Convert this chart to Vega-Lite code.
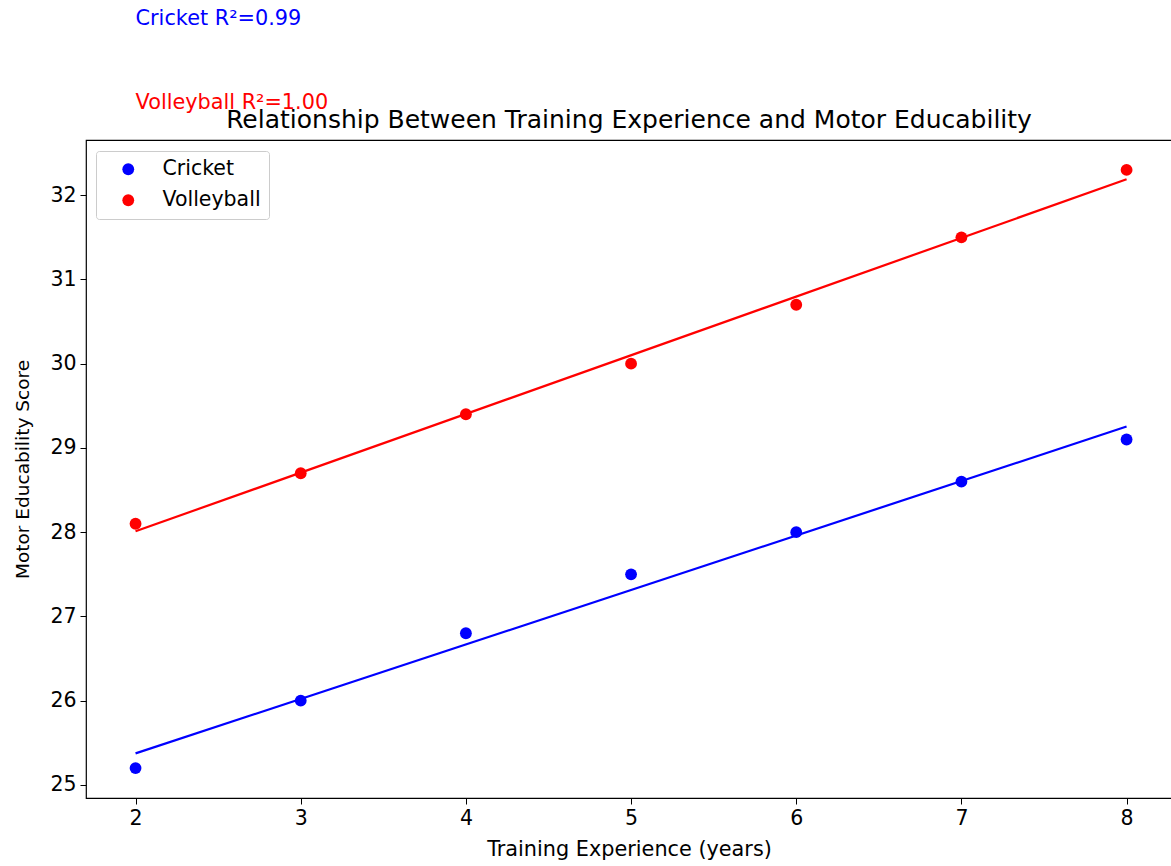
{
  "$schema": "https://vega.github.io/schema/vega-lite/v6.json",
  "autosize": {"type": "none"},
  "padding": {"left": 86, "top": 140, "right": 0, "bottom": 68},
  "width": 1086,
  "height": 658,
  "background": "white",
  "config": {
    "font": "DejaVu Sans",
    "view": {"stroke": "black", "strokeWidth": 1.2},
    "axis": {"grid": false, "domain": false, "tickColor": "black", "tickSize": 6, "labelColor": "black", "labelFontSize": 20.5, "titleFontSize": 20.8, "titleFontWeight": "normal", "titleColor": "black", "labelPadding": 4, "format": "d"}
  },
  "title": {"text": "Relationship Between Training Experience and Motor Educability", "fontSize": 25, "fontWeight": "normal", "color": "black", "anchor": "middle", "offset": 0, "baseline": "alphabetic", "dy": 145},
  "datasets": {
    "pts": [
      {"years": 2, "score": 25.2, "sport": "Cricket"},
      {"years": 3, "score": 26.0, "sport": "Cricket"},
      {"years": 4, "score": 26.8, "sport": "Cricket"},
      {"years": 5, "score": 27.5, "sport": "Cricket"},
      {"years": 6, "score": 28.0, "sport": "Cricket"},
      {"years": 7, "score": 28.6, "sport": "Cricket"},
      {"years": 8, "score": 29.1, "sport": "Cricket"},
      {"years": 2, "score": 28.1, "sport": "Volleyball"},
      {"years": 3, "score": 28.7, "sport": "Volleyball"},
      {"years": 4, "score": 29.4, "sport": "Volleyball"},
      {"years": 5, "score": 30.0, "sport": "Volleyball"},
      {"years": 6, "score": 30.7, "sport": "Volleyball"},
      {"years": 7, "score": 31.5, "sport": "Volleyball"},
      {"years": 8, "score": 32.3, "sport": "Volleyball"}
    ],
    "notes": [
      {"years": 2, "score": 34.015, "label": "Cricket R²=0.99", "series": "Cricket"},
      {"years": 2, "score": 33.02, "label": "Volleyball R²=1.00", "series": "Volleyball"}
    ]
  },
  "layer": [
    {
      "data": {"name": "pts"},
      "transform": [{"regression": "score", "on": "years", "groupby": ["sport"]}],
      "mark": {"type": "line", "strokeWidth": 2.2},
      "encoding": {
        "x": {"field": "years", "type": "quantitative"},
        "y": {"field": "score", "type": "quantitative"},
        "color": {"field": "sport", "type": "nominal"}
      }
    },
    {
      "data": {"name": "pts"},
      "mark": {"type": "point", "filled": true, "opacity": 1, "size": 140, "shape": "circle"},
      "encoding": {
        "x": {"field": "years", "type": "quantitative", "title": "Training Experience (years)",
              "scale": {"domain": [1.7, 8.275], "nice": false, "zero": false},
              "axis": {"values": [2, 3, 4, 5, 6, 7, 8], "titlePadding": 11}},
        "y": {"field": "score", "type": "quantitative", "title": "Motor Educability Score",
              "scale": {"domain": [24.845, 32.655], "nice": false, "zero": false},
              "axis": {"values": [25, 26, 27, 28, 29, 30, 31, 32], "titlePadding": 17, "titleFontSize": 18.5}},
        "color": {"field": "sport", "type": "nominal",
                  "scale": {"domain": ["Cricket", "Volleyball"], "range": ["#0000ff", "#ff0000"]},
                  "legend": {"title": null, "orient": "none", "legendX": 10, "legendY": 11,
                             "labelFontSize": 20.5, "labelColor": "black", "symbolSize": 140, "symbolType": "circle",
                             "symbolStrokeWidth": 0, "padding": 8, "rowPadding": 10, "labelOffset": 24,
                             "fillColor": "white", "strokeColor": "#cccccc", "cornerRadius": 3, "symbolOffset": 14}}
      }
    },
    {
      "data": {"name": "notes"},
      "mark": {"type": "text", "align": "left", "baseline": "alphabetic", "fontSize": 20.8},
      "encoding": {
        "x": {"field": "years", "type": "quantitative"},
        "y": {"field": "score", "type": "quantitative"},
        "text": {"field": "label"},
        "fill": {"field": "series", "type": "nominal", "legend": null,
                 "scale": {"domain": ["Cricket", "Volleyball"], "range": ["#0000ff", "#ff0000"]}}
      }
    }
  ]
}
